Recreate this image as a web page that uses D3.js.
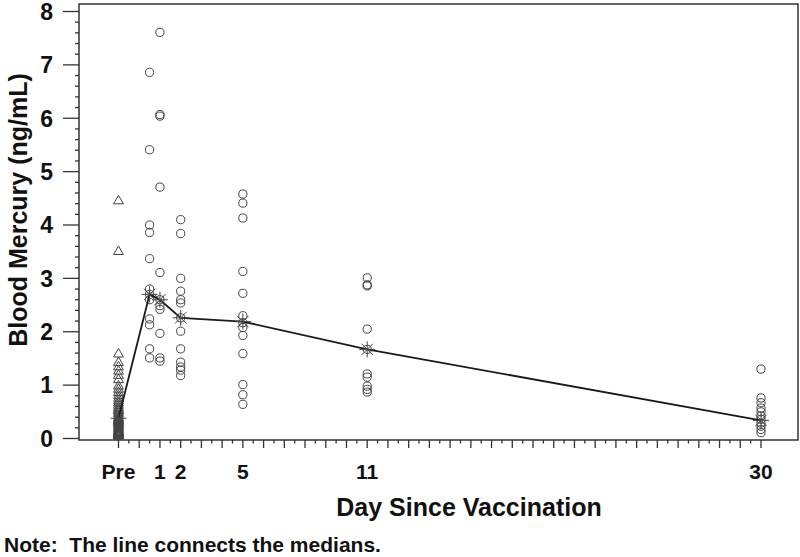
<!DOCTYPE html>
<html>
<head>
<meta charset="utf-8">
<script src="https://cdn.jsdelivr.net/npm/d3@7"></script>
<style>
  html, body { margin: 0; padding: 0; background: #fff; }
  svg { display: block; font-family: "Liberation Sans", Arial, sans-serif; }
</style>
</head>
<body>
<svg id="chart" width="800" height="557"></svg>
<script>
// ---- data ----
const preValues = [4.45, 3.50, 1.58, 1.42, 1.34, 1.26, 1.18, 1.10, 0.98, 0.92, 0.86, 0.80, 0.75, 0.70, 0.66, 0.62, 0.58, 0.55, 0.52, 0.49, 0.46, 0.42, 0.39, 0.37, 0.35, 0.33, 0.31, 0.29, 0.27, 0.25, 0.23, 0.21, 0.19, 0.17, 0.15, 0.13, 0.12, 0.11, 0.10, 0.09, 0.08, 0.07, 0.06, 0.05, 0.05, 0.04];
const day05Values = [6.86, 5.41, 4.00, 3.86, 3.37, 2.80, 2.70, 2.60, 2.24, 2.13, 1.68, 1.51];
const day1Values = [7.61, 6.07, 6.04, 4.71, 3.11, 2.60, 2.49, 2.42, 1.97, 1.51, 1.45];
const day2Values = [4.10, 3.84, 3.00, 2.76, 2.60, 2.54, 2.26, 2.01, 1.68, 1.43, 1.34, 1.28, 1.18];
const day5Values = [4.58, 4.41, 4.13, 3.13, 2.72, 2.30, 2.17, 2.08, 1.93, 1.59, 1.01, 0.82, 0.64];
const day11Values = [3.01, 2.88, 2.86, 2.05, 1.67, 1.21, 1.15, 0.98, 0.92, 0.87];
const day30Values = [1.30, 0.76, 0.67, 0.57, 0.50, 0.42, 0.36, 0.29, 0.23, 0.17, 0.11];
const medianDays = [-1, 0.5, 1, 2, 5, 11, 30];
const medianValues = [0.38, 2.70, 2.60, 2.26, 2.19, 1.67, 0.34];
const xTickDays = [-1, 1, 2, 5, 11, 30];
const xTickLabels = ["Pre", "1", "2", "5", "11", "30"];
const yTicks = [0, 1, 2, 3, 4, 5, 6, 7, 8];

const groups = [
  { day: 0.5, values: day05Values },
  { day: 1, values: day1Values },
  { day: 2, values: day2Values },
  { day: 5, values: day5Values },
  { day: 11, values: day11Values },
  { day: 30, values: day30Values }
];

// ---- layout ----
const svg = d3.select("#chart");
const frame = { left: 79, right: 798, top: 4, bottom: 440 };
const x = d3.scaleLinear().domain([-1, 30]).range([118.5, 761]);
const y = d3.scaleLinear().domain([0, 8]).range([438.5, 11.5]);

const markColor = "#444";

// frame
svg.append("rect")
  .attr("x", frame.left).attr("y", frame.top)
  .attr("width", frame.right - frame.left).attr("height", frame.bottom - frame.top)
  .attr("fill", "none").attr("stroke", "#333").attr("stroke-width", 1.5);

// y axis ticks
const yMinor = d3.range(0, 8.001, 0.2).map(v => +v.toFixed(1));
svg.append("g").selectAll("line").data(yMinor).join("line")
  .attr("x1", d => Number.isInteger(d) ? frame.left - 16 : frame.left - 4)
  .attr("x2", frame.left)
  .attr("y1", d => y(d)).attr("y2", d => y(d))
  .attr("stroke", "#333").attr("stroke-width", 1.3);
svg.append("g").selectAll("text").data(yTicks).join("text")
  .attr("x", 53).attr("y", d => y(d) + 8.3)
  .attr("text-anchor", "end")
  .attr("font-size", 23).attr("font-weight", "bold").attr("fill", "#111")
  .text(d => d);

// x axis ticks
const xMinor = d3.range(-1, 30.001, 0.5);
svg.append("g").selectAll("line").data(xMinor).join("line")
  .attr("x1", d => x(d)).attr("x2", d => x(d))
  .attr("y1", frame.bottom)
  .attr("y2", d => Number.isInteger(d) ? frame.bottom + 8 : frame.bottom + 3.5)
  .attr("stroke", "#333").attr("stroke-width", 1.3);
svg.append("g").selectAll("text").data(xTickDays).join("text")
  .attr("x", d => x(d)).attr("y", 479)
  .attr("text-anchor", "middle")
  .attr("font-size", 21).attr("font-weight", "bold").attr("fill", "#111")
  .text((d, i) => xTickLabels[i]);

// axis titles
svg.append("text")
  .attr("x", 469).attr("y", 516)
  .attr("text-anchor", "middle")
  .attr("font-size", 25).attr("font-weight", "bold").attr("fill", "#111")
  .text("Day Since Vaccination");
svg.append("text")
  .attr("transform", "translate(27,210) rotate(-90)")
  .attr("text-anchor", "middle")
  .attr("font-size", 25).attr("font-weight", "bold").attr("fill", "#111")
  .text("Blood Mercury (ng/mL)");
svg.append("text")
  .attr("x", 4).attr("y", 552)
  .attr("font-size", 21).attr("font-weight", "bold").attr("fill", "#111")
  .attr("xml:space", "preserve")
  .style("white-space", "pre")
  .text("Note:  The line connects the medians.");

// pre-vaccination triangles
const tri = d3.symbol().type(d3.symbolTriangle).size(42);
svg.append("g").selectAll("path").data(preValues).join("path")
  .attr("d", tri)
  .attr("transform", d => `translate(${x(-1)},${y(d)})`)
  .attr("fill", "none").attr("stroke", markColor).attr("stroke-width", 1);

// post-vaccination circles
const pts = groups.flatMap(g => g.values.map(v => ({ day: g.day, v })));
svg.append("g").selectAll("circle").data(pts).join("circle")
  .attr("cx", d => x(d.day)).attr("cy", d => y(d.v)).attr("r", 4.1)
  .attr("fill", "none").attr("stroke", markColor).attr("stroke-width", 1);

// median line
const med = medianDays.map((d, i) => ({ day: d, v: medianValues[i] }));
svg.append("path").datum(med)
  .attr("d", d3.line().x(d => x(d.day)).y(d => y(d.v)))
  .attr("fill", "none").attr("stroke", "#1a1a1a").attr("stroke-width", 1.8);

// median asterisks
const star = svg.append("g").selectAll("g").data(med).join("g")
  .attr("transform", d => `translate(${x(d.day)},${y(d.v)})`);
[0, 45, 90, 135].forEach(a => {
  const r = 8, rad = a * Math.PI / 180;
  star.append("line")
    .attr("x1", -r * Math.cos(rad)).attr("y1", -r * Math.sin(rad))
    .attr("x2", r * Math.cos(rad)).attr("y2", r * Math.sin(rad))
    .attr("stroke", markColor).attr("stroke-width", 1);
});
</script>
</body>
</html>
